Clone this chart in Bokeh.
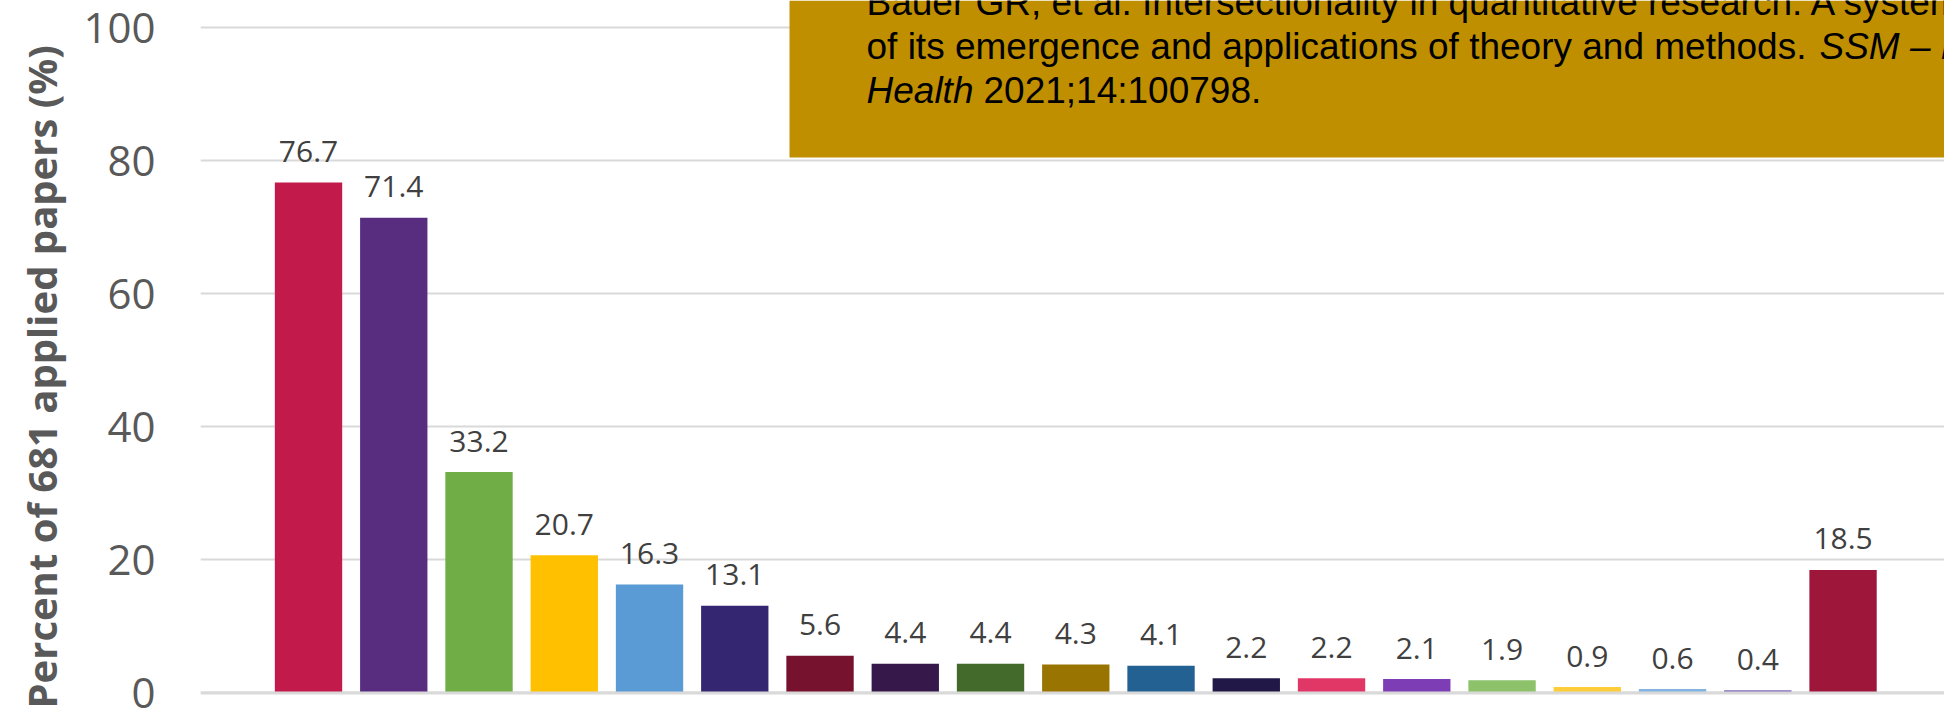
from bokeh.core.properties import value
from bokeh.embed import file_html
from bokeh.models import BoxAnnotation, ColumnDataSource, FixedTicker, Label, Range1d, Span, Title
from bokeh.plotting import figure
from bokeh.resources import INLINE

# Share of the 681 applied papers, one bar per category (left to right)
values = [76.7, 71.4, 33.2, 20.7, 16.3, 13.1, 5.6, 4.4, 4.4, 4.3, 4.1,
          2.2, 2.2, 2.1, 1.9, 0.9, 0.6, 0.4, 18.5]
bar_colors = ["#C21B4B", "#582C7F", "#70AD47", "#FFC000", "#5B9BD5", "#352672",
              "#76122D", "#36194A", "#446A2B", "#9A7400", "#226192", "#211848",
              "#E13766", "#7C3DB5", "#8DC26A", "#FFCC3A", "#83B4E2", "#7F6BBA",
              "#9E173B"]
y_ticks = [0, 20, 40, 60, 80, 100]
y_title = "Percent of 681 applied papers (%)"

citation_line1 = "Bauer GR, et al. Intersectionality in quantitative research: A systematic review"
citation_line2 = "of its emergence and applications of theory and methods."
citation_journal = "SSM – Population"
citation_journal2 = "Health"
citation_tail = "2021;14:100798."

# plot window
x_start, x_end = -1.267, 19.19
y_start, y_end = -2.63, 104.06

positions = list(range(len(values)))
source = ColumnDataSource(dict(
    x=positions,
    top=values,
    color=bar_colors,
    label=[f"{v:.1f}" for v in values],
))

p = figure(
    width=1944, height=710,
    x_range=Range1d(x_start, x_end), y_range=Range1d(y_start, y_end),
    x_axis_location=None,
    output_backend="svg", toolbar_location=None,
    min_border_left=200, min_border_right=0, min_border_top=0, min_border_bottom=0,
)
p.outline_line_color = None
p.background_fill_color = "white"
p.border_fill_color = "white"

# value axis
ax = p.yaxis[0]
ax.ticker = FixedTicker(ticks=y_ticks)
ax.axis_line_color = None
ax.major_tick_line_color = None
ax.minor_tick_line_color = None
ax.major_tick_out = 0
ax.major_tick_in = 0
ax.major_label_standoff = 45
ax.major_label_text_font = "Open Sans"
ax.major_label_text_font_size = "42px"
ax.major_label_text_color = "#595959"

# vertical axis title, placed in the left panel beside the tick labels
p.add_layout(Title(
    text=y_title, align="left", offset=2, standoff=23, vertical_align="bottom",
    text_font="Open Sans", text_font_style="bold", text_font_size="40px",
    text_color="#595959",
), "left")

p.xgrid.visible = False
p.ygrid.ticker = FixedTicker(ticks=y_ticks)
p.ygrid.grid_line_color = "#D9D9D9"
p.ygrid.grid_line_width = 2

p.vbar(x="x", top="top", bottom=0, width=0.79, fill_color="color",
       line_color=None, source=source)

# baseline
p.add_layout(Span(location=0, dimension="width", line_color="#D9D9D9", line_width=3))

# value labels above each bar
p.text(x="x", y="top", text="label", source=source,
       text_align="center", text_baseline="alphabetic", y_offset=-31,
       text_font=value("Open Sans"), text_font_size="30px", text_color="#404040")

# citation box
box_left, box_bottom = 5.642, 80.47
p.add_layout(BoxAnnotation(left=box_left, right=x_end, bottom=box_bottom, top=y_end,
                           fill_color="#BF8F00", fill_alpha=1.0, line_color=None))

cite_style = dict(text_font="Liberation Sans", text_font_size="37px",
                  text_color="black", text_align="left", text_baseline="alphabetic")
p.add_layout(Label(x=box_left, y=box_bottom, x_offset=77, y_offset=155,
                   text=citation_line1, **cite_style))
p.add_layout(Label(x=box_left, y=box_bottom, x_offset=77, y_offset=111,
                   text=citation_line2, **cite_style))
p.add_layout(Label(x=box_left, y=box_bottom, x_offset=1030, y_offset=111,
                   text=citation_journal, text_font_style="italic", **cite_style))
p.add_layout(Label(x=box_left, y=box_bottom, x_offset=77, y_offset=67,
                   text=citation_journal2, text_font_style="italic", **cite_style))
p.add_layout(Label(x=box_left, y=box_bottom, x_offset=194, y_offset=67,
                   text=citation_tail, **cite_style))

open("out.html", "w").write(file_html(p, INLINE))
